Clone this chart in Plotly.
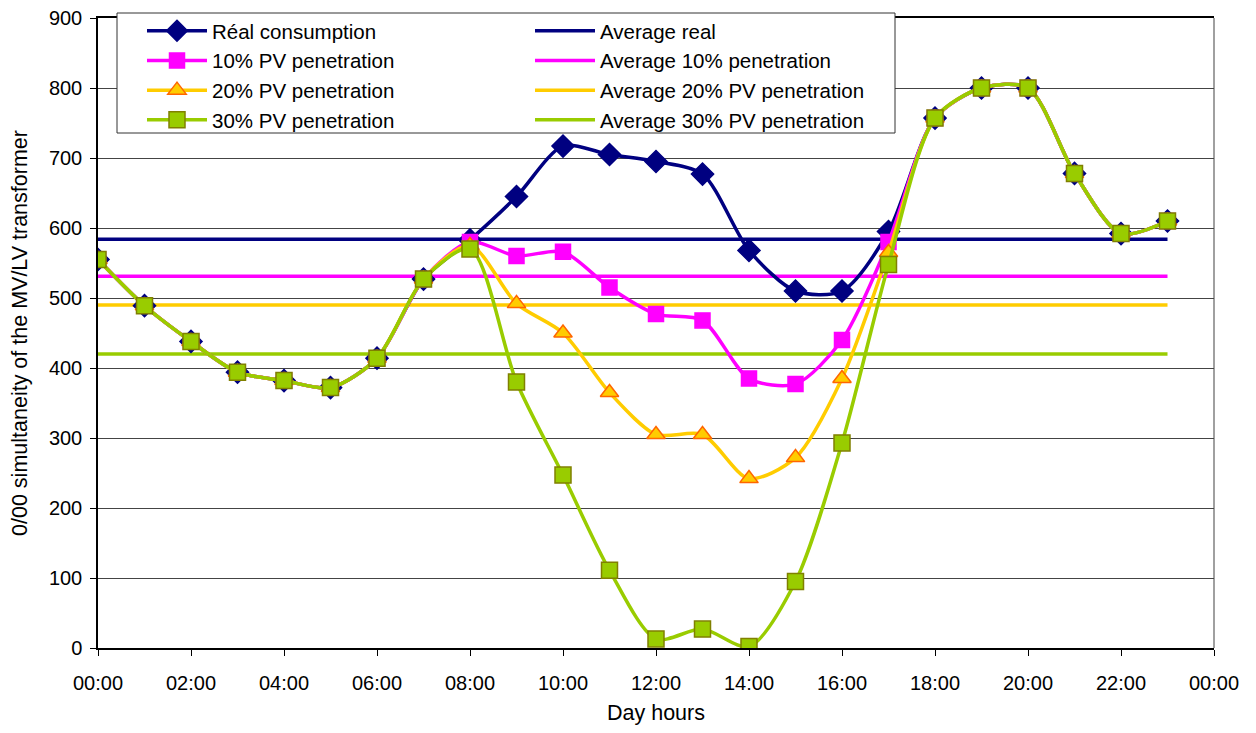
import plotly.graph_objects as go

hours = list(range(24))
tick_vals = list(range(0, 25, 2))
tick_text = ["00:00", "02:00", "04:00", "06:00", "08:00", "10:00", "12:00",
             "14:00", "16:00", "18:00", "20:00", "22:00", "00:00"]

real = [555, 489, 438, 394, 382, 372, 414, 527, 583, 645, 717, 705,
        695, 677, 568, 510, 510, 595, 757, 800, 800, 678, 592, 610]
pv10 = [555, 489, 438, 394, 382, 372, 414, 527, 580, 560, 566, 515,
        477, 468, 385, 377, 440, 580, 757, 800, 800, 678, 592, 610]
pv20 = [555, 489, 438, 394, 382, 372, 414, 527, 575, 492, 450, 365,
        305, 305, 242, 272, 385, 565, 757, 800, 800, 678, 592, 610]
pv30 = [555, 489, 438, 394, 382, 372, 414, 527, 570, 380, 247, 111,
        13, 27, 2, 95, 293, 548, 757, 800, 800, 678, 592, 610]

avg_real = 584
avg10 = 531
avg20 = 490
avg30 = 420

# page geometry (the page body adds an 8px offset)
OFF = 8
W, H = 1240, 717
PL, PT, PR, PB = 98, 18, 1214, 648          # plot area in page pixels
L, T = PL - OFF, PT - OFF
R, B = OFF + W - PR, OFF + H - PB


def px_x(p):
    return (p - PL) / (PR - PL)


def px_y(p):
    return (PB - p) / (PB - PT)


fig = go.Figure()

avgs = [("Average real", avg_real, "#000080", 1),
        ("Average 10% penetration", avg10, "#FF00FF", 2),
        ("Average 20% PV penetration", avg20, "#FFCC00", 3),
        ("Average 30% PV penetration", avg30, "#99CC00", 4)]
for name, v, c, rank in avgs:
    fig.add_trace(go.Scatter(x=[hours[0], hours[-1]], y=[v, v], mode="lines", name=name,
                             line=dict(color=c, width=3.5), legendrank=rank,
                             legend="legend2"))

series = [("Réal consumption", real, "#000080", "diamond", "#000080", "#000080", 17, 1),
          ("10% PV penetration", pv10, "#FF00FF", "square", "#FF00FF", "#FF00FF", 15, 2),
          ("20% PV penetration", pv20, "#FFCC00", "triangle-up", "#FFCC00", "#FF6600", 16, 3),
          ("30% PV penetration", pv30, "#99CC00", "square", "#99CC00", "#808000", 16, 4)]
for name, vals, c, sym, fill, edge, sz, rank in series:
    fig.add_trace(go.Scatter(x=hours, y=vals, mode="lines+markers", name=name,
                             line=dict(color=c, width=3.5, shape="spline", smoothing=0.8),
                             marker=dict(symbol=sym, size=sz, color=fill,
                                         line=dict(color=edge, width=1.5)),
                             legendrank=rank, legend="legend"))

font = "Liberation Sans, Arial, sans-serif"
leg_common = dict(orientation="v", yanchor="top", xanchor="left",
                  bgcolor="rgba(0,0,0,0)", borderwidth=0,
                  font=dict(size=20.5), itemwidth=60, tracegroupgap=0)
fig.update_layout(
    width=W, height=H,
    margin=dict(l=L, r=R, t=T, b=B, autoexpand=False),
    paper_bgcolor="white", plot_bgcolor="white",
    font=dict(family=font, size=20, color="black"),
    legend=dict(x=px_x(142), y=px_y(11), **leg_common),
    legend2=dict(x=px_x(530), y=px_y(11), **leg_common),
    showlegend=True,
    shapes=[
        dict(type="line", xref="paper", yref="paper", x0=1, x1=1, y0=0, y1=1,
             line=dict(color="#808080", width=1.5), layer="below"),
        dict(type="rect", xref="paper", yref="paper",
             x0=px_x(117), x1=px_x(895), y0=px_y(133), y1=px_y(13),
             fillcolor="white", line=dict(color="#333333", width=1),
             layer="above"),
    ],
)
fig.update_xaxes(range=[0, 24], tickvals=tick_vals, ticktext=tick_text,
                 showgrid=False, showline=True, linecolor="black", linewidth=1.5,
                 mirror=True,
                 ticks="outside", ticklen=6, tickcolor="black", zeroline=False,
                 automargin=False, ticklabelstandoff=10, ticklabeloverflow="allow",
                 title=dict(text="Day hours", font=dict(size=21.5), standoff=20),
                 tickfont=dict(size=20))
fig.update_yaxes(range=[0, 900], dtick=100, showgrid=True, gridcolor="#444444", gridwidth=1,
                 showline=True, linecolor="black", linewidth=1.5,
                 ticks="outside", ticklen=6, tickcolor="black", zeroline=False,
                 automargin=False, ticklabelstandoff=4, ticklabeloverflow="allow",
                 title=dict(text="0/00 simultaneity of the MV/LV transformer",
                            font=dict(size=21.5), standoff=16),
                 tickfont=dict(size=20))

fig.write_html("out.html")
